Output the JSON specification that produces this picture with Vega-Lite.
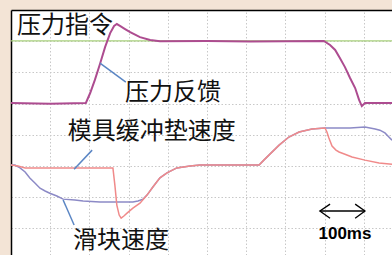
{
  "$schema": "https://vega.github.io/schema/vega-lite/v6.json",
  "width": 381,
  "height": 245,
  "autosize": "none",
  "padding": {"left": 11, "top": 10, "right": 0, "bottom": 0},
  "background": "#f3e4d6",
  "config": {"view": {"fill": "white", "stroke": null}},
  "datasets": {
    "traces": [
      {"series": "command", "i": 0, "t": 0, "v": 7.01},
      {"series": "command", "i": 1, "t": 972, "v": 7.01},

      {"series": "feedback", "i": 0, "t": 0, "v": 5.02},
      {"series": "feedback", "i": 1, "t": 100, "v": 5.0},
      {"series": "feedback", "i": 2, "t": 191, "v": 5.02},
      {"series": "feedback", "i": 3, "t": 202, "v": 5.34},
      {"series": "feedback", "i": 4, "t": 214, "v": 5.76},
      {"series": "feedback", "i": 5, "t": 227, "v": 6.27},
      {"series": "feedback", "i": 6, "t": 240, "v": 6.81},
      {"series": "feedback", "i": 7, "t": 253, "v": 7.26},
      {"series": "feedback", "i": 8, "t": 263, "v": 7.49},
      {"series": "feedback", "i": 9, "t": 270, "v": 7.55},
      {"series": "feedback", "i": 10, "t": 278, "v": 7.49},
      {"series": "feedback", "i": 11, "t": 291, "v": 7.39},
      {"series": "feedback", "i": 12, "t": 304, "v": 7.29},
      {"series": "feedback", "i": 13, "t": 329, "v": 7.13},
      {"series": "feedback", "i": 14, "t": 355, "v": 7.04},
      {"series": "feedback", "i": 15, "t": 380, "v": 7.0},
      {"series": "feedback", "i": 16, "t": 500, "v": 7.01},
      {"series": "feedback", "i": 17, "t": 610, "v": 6.99},
      {"series": "feedback", "i": 18, "t": 798, "v": 7.01},
      {"series": "feedback", "i": 19, "t": 814, "v": 6.88},
      {"series": "feedback", "i": 20, "t": 827, "v": 6.72},
      {"series": "feedback", "i": 21, "t": 839, "v": 6.46},
      {"series": "feedback", "i": 22, "t": 852, "v": 6.17},
      {"series": "feedback", "i": 23, "t": 865, "v": 5.82},
      {"series": "feedback", "i": 24, "t": 878, "v": 5.5},
      {"series": "feedback", "i": 25, "t": 888, "v": 5.12},
      {"series": "feedback", "i": 26, "t": 895, "v": 4.92},
      {"series": "feedback", "i": 27, "t": 903, "v": 5.02},
      {"series": "feedback", "i": 28, "t": 972, "v": 5.02},

      {"series": "slide", "i": 0, "t": 0, "v": 3.03},
      {"series": "slide", "i": 1, "t": 10, "v": 3.03},
      {"series": "slide", "i": 2, "t": 23, "v": 2.94},
      {"series": "slide", "i": 3, "t": 36, "v": 2.81},
      {"series": "slide", "i": 4, "t": 48, "v": 2.62},
      {"series": "slide", "i": 5, "t": 61, "v": 2.46},
      {"series": "slide", "i": 6, "t": 74, "v": 2.29},
      {"series": "slide", "i": 7, "t": 87, "v": 2.2},
      {"series": "slide", "i": 8, "t": 99, "v": 2.13},
      {"series": "slide", "i": 9, "t": 117, "v": 2.04},
      {"series": "slide", "i": 10, "t": 133, "v": 1.94},
      {"series": "slide", "i": 11, "t": 163, "v": 1.91},
      {"series": "slide", "i": 12, "t": 184, "v": 1.88},
      {"series": "slide", "i": 13, "t": 227, "v": 1.85},
      {"series": "slide", "i": 14, "t": 278, "v": 1.85},
      {"series": "slide", "i": 15, "t": 311, "v": 1.85},
      {"series": "slide", "i": 16, "t": 324, "v": 1.88},
      {"series": "slide", "i": 17, "t": 337, "v": 1.94},
      {"series": "slide", "i": 18, "t": 347, "v": 2.07},
      {"series": "slide", "i": 19, "t": 362, "v": 2.33},
      {"series": "slide", "i": 20, "t": 380, "v": 2.62},
      {"series": "slide", "i": 21, "t": 398, "v": 2.78},
      {"series": "slide", "i": 22, "t": 423, "v": 2.94},
      {"series": "slide", "i": 23, "t": 457, "v": 3.0},
      {"series": "slide", "i": 24, "t": 482, "v": 3.03},
      {"series": "slide", "i": 25, "t": 633, "v": 3.03},
      {"series": "slide", "i": 26, "t": 645, "v": 3.19},
      {"series": "slide", "i": 27, "t": 658, "v": 3.35},
      {"series": "slide", "i": 28, "t": 684, "v": 3.67},
      {"series": "slide", "i": 29, "t": 709, "v": 3.93},
      {"series": "slide", "i": 30, "t": 735, "v": 4.09},
      {"series": "slide", "i": 31, "t": 768, "v": 4.19},
      {"series": "slide", "i": 32, "t": 801, "v": 4.22},
      {"series": "slide", "i": 33, "t": 865, "v": 4.22},
      {"series": "slide", "i": 34, "t": 903, "v": 4.25},
      {"series": "slide", "i": 35, "t": 929, "v": 4.19},
      {"series": "slide", "i": 36, "t": 941, "v": 4.15},
      {"series": "slide", "i": 37, "t": 954, "v": 4.06},
      {"series": "slide", "i": 38, "t": 964, "v": 3.93},
      {"series": "slide", "i": 39, "t": 972, "v": 3.83},

      {"series": "cushion", "i": 0, "t": 0, "v": 3.03},
      {"series": "cushion", "i": 1, "t": 18, "v": 3.0},
      {"series": "cushion", "i": 2, "t": 36, "v": 2.94},
      {"series": "cushion", "i": 3, "t": 125, "v": 2.94},
      {"series": "cushion", "i": 4, "t": 260, "v": 2.94},
      {"series": "cushion", "i": 5, "t": 265, "v": 2.39},
      {"series": "cushion", "i": 6, "t": 270, "v": 1.75},
      {"series": "cushion", "i": 7, "t": 276, "v": 1.43},
      {"series": "cushion", "i": 8, "t": 281, "v": 1.33},
      {"series": "cushion", "i": 9, "t": 288, "v": 1.4},
      {"series": "cushion", "i": 10, "t": 296, "v": 1.49},
      {"series": "cushion", "i": 11, "t": 311, "v": 1.65},
      {"series": "cushion", "i": 12, "t": 329, "v": 1.81},
      {"series": "cushion", "i": 13, "t": 347, "v": 2.07},
      {"series": "cushion", "i": 14, "t": 362, "v": 2.33},
      {"series": "cushion", "i": 15, "t": 380, "v": 2.62},
      {"series": "cushion", "i": 16, "t": 398, "v": 2.78},
      {"series": "cushion", "i": 17, "t": 423, "v": 2.94},
      {"series": "cushion", "i": 18, "t": 457, "v": 3.0},
      {"series": "cushion", "i": 19, "t": 482, "v": 3.03},
      {"series": "cushion", "i": 20, "t": 633, "v": 3.03},
      {"series": "cushion", "i": 21, "t": 645, "v": 3.19},
      {"series": "cushion", "i": 22, "t": 658, "v": 3.35},
      {"series": "cushion", "i": 23, "t": 684, "v": 3.67},
      {"series": "cushion", "i": 24, "t": 709, "v": 3.93},
      {"series": "cushion", "i": 25, "t": 735, "v": 4.09},
      {"series": "cushion", "i": 26, "t": 768, "v": 4.19},
      {"series": "cushion", "i": 27, "t": 801, "v": 4.22},
      {"series": "cushion", "i": 28, "t": 806, "v": 4.09},
      {"series": "cushion", "i": 29, "t": 811, "v": 3.9},
      {"series": "cushion", "i": 30, "t": 819, "v": 3.64},
      {"series": "cushion", "i": 31, "t": 829, "v": 3.51},
      {"series": "cushion", "i": 32, "t": 837, "v": 3.45},
      {"series": "cushion", "i": 33, "t": 852, "v": 3.38},
      {"series": "cushion", "i": 34, "t": 870, "v": 3.29},
      {"series": "cushion", "i": 35, "t": 903, "v": 3.19},
      {"series": "cushion", "i": 36, "t": 939, "v": 3.1},
      {"series": "cushion", "i": 37, "t": 972, "v": 3.06}
    ],
    "leaders": [
      {"k": "feedback", "i": 0, "t": 227, "v": 6.3},
      {"k": "feedback", "i": 1, "t": 293, "v": 5.69},
      {"k": "cushion", "i": 0, "t": 207, "v": 3.51},
      {"k": "cushion", "i": 1, "t": 161, "v": 2.9},
      {"k": "slide", "i": 0, "t": 133, "v": 1.91},
      {"k": "slide", "i": 1, "t": 161, "v": 1.11}
    ],
    "arrow": [
      {"k": "shaft", "i": 0, "t": 788, "v": 1.56},
      {"k": "shaft", "i": 1, "t": 903, "v": 1.56},
      {"k": "left", "i": 0, "t": 814, "v": 1.78},
      {"k": "left", "i": 1, "t": 788, "v": 1.56},
      {"k": "left", "i": 2, "t": 814, "v": 1.33},
      {"k": "right", "i": 0, "t": 878, "v": 1.78},
      {"k": "right", "i": 1, "t": 903, "v": 1.56},
      {"k": "right", "i": 2, "t": 878, "v": 1.33}
    ],
    "labels": [
      {"label": "压力指令", "t": 15, "v": 7.49},
      {"label": "压力反馈", "t": 291, "v": 5.34},
      {"label": "模具缓冲垫速度", "t": 145, "v": 4.09},
      {"label": "滑块速度", "t": 158, "v": 0.6}
    ]
  },
  "encoding": {
    "x": {"field": "t", "type": "quantitative",
      "scale": {"domain": [0, 972], "nice": false, "zero": false},
      "axis": {"orient": "top", "values": [100, 200, 300, 400, 500, 600, 700, 800, 900],
        "grid": true, "gridColor": "#c8c8c8", "gridDash": [1.5, 2], "gridWidth": 1,
        "domain": true, "domainColor": "#000000", "domainWidth": 1.5,
        "labels": false, "ticks": false, "title": null}},
    "y": {"field": "v", "type": "quantitative",
      "scale": {"domain": [0.15, 8], "nice": false, "zero": false},
      "axis": {"orient": "left", "values": [1, 2, 3, 4, 5, 6, 7],
        "grid": true, "gridColor": "#c8c8c8", "gridDash": [1.5, 2], "gridWidth": 1,
        "domain": true, "domainColor": "#000000", "domainWidth": 1.5,
        "labels": false, "ticks": false, "title": null}}
  },
  "layer": [
    {
      "data": {"name": "traces"},
      "transform": [{"filter": "datum.series == 'command'"}],
      "mark": {"type": "line", "color": "#a8d07c", "strokeWidth": 1.3},
      "encoding": {"order": {"field": "i", "type": "quantitative"}}
    },
    {
      "data": {"name": "traces"},
      "transform": [{"filter": "datum.series == 'slide'"}],
      "mark": {"type": "line", "color": "#8c8ac6", "strokeWidth": 1.5},
      "encoding": {"order": {"field": "i", "type": "quantitative"}}
    },
    {
      "data": {"name": "traces"},
      "transform": [{"filter": "datum.series == 'cushion'"}],
      "mark": {"type": "line", "color": "#f08a8a", "strokeWidth": 1.5},
      "encoding": {"order": {"field": "i", "type": "quantitative"}}
    },
    {
      "data": {"name": "traces"},
      "transform": [{"filter": "datum.series == 'feedback'"}],
      "mark": {"type": "line", "color": "#ad4c90", "strokeWidth": 2},
      "encoding": {"order": {"field": "i", "type": "quantitative"}}
    },
    {
      "data": {"name": "leaders"},
      "mark": {"type": "line", "color": "#5b86c4", "strokeWidth": 1.5},
      "encoding": {"detail": {"field": "k"}, "order": {"field": "i", "type": "quantitative"}}
    },
    {
      "data": {"name": "arrow"},
      "mark": {"type": "line", "color": "#000000", "strokeWidth": 1.3},
      "encoding": {"detail": {"field": "k"}, "order": {"field": "i", "type": "quantitative"}}
    },
    {
      "data": {"name": "labels"},
      "mark": {"type": "text", "align": "left", "baseline": "middle", "font": "Noto Sans CJK SC", "fontSize": 24, "color": "#111111"},
      "encoding": {"text": {"field": "label"}}
    },
    {
      "data": {"values": [{"label": "100ms", "t": 852, "v": 0.82}]},
      "mark": {"type": "text", "align": "center", "baseline": "middle", "font": "Liberation Sans", "fontSize": 17, "fontWeight": "bold", "color": "#000000"},
      "encoding": {"text": {"field": "label"}}
    }
  ]
}
